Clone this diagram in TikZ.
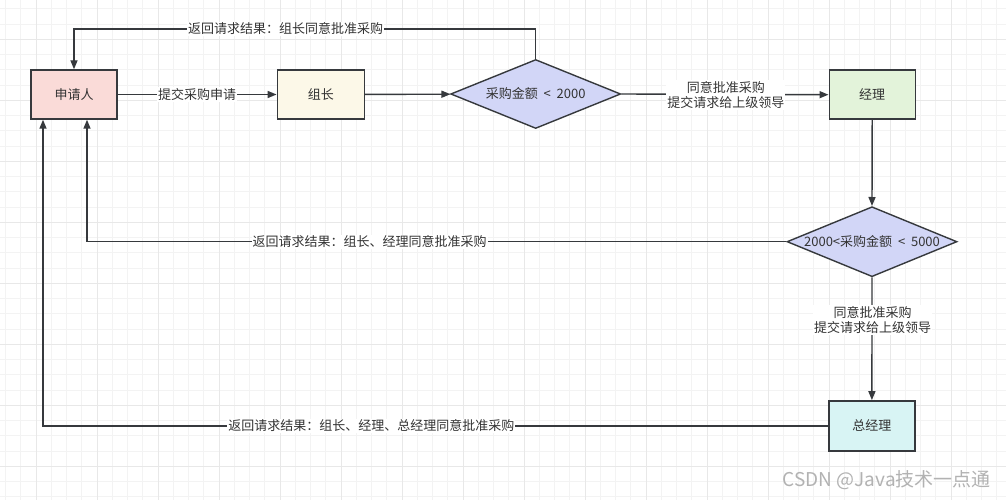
\documentclass[tikz,border=0pt]{standalone}
\usepackage{fontspec}
\setmainfont{Noto Sans CJK SC}
\usetikzlibrary{shapes.geometric,arrows.meta}
\definecolor{strk}{HTML}{36393D}
\definecolor{txt}{HTML}{333333}
\definecolor{fpink}{HTML}{FADBD8}
\definecolor{fyel}{HTML}{FCF8E8}
\definecolor{fblue}{HTML}{D2D6F7}
\definecolor{fgreen}{HTML}{E3F3DA}
\definecolor{fcyan}{HTML}{D8F4F4}
\definecolor{gminor}{HTML}{F3F3F3}
\definecolor{gmajor}{HTML}{E8E8E8}
\tikzset{
  box/.style={draw=strk, line width=1.4pt, minimum width=86pt, minimum height=49pt, inner sep=0pt, font=\fontsize{13}{15}\selectfont, text=txt},
  dia/.style={diamond, draw=strk, line width=1.4pt, fill=fblue, minimum width=170pt, minimum height=69pt, aspect=2.46, inner sep=0pt, font=\fontsize{13}{15}\selectfont, text=txt},
  conn/.style={draw=strk, line width=1.4pt},
  arr/.style={conn, -{Triangle[length=9pt,width=7pt]}},
  lbl/.style={fill=white, inner sep=1pt, font=\fontsize{13}{15.5}\selectfont, text=txt, align=center}
}
\begin{document}
\begin{tikzpicture}[x=1pt,y=-1pt]
\useasboundingbox (0,0) rectangle (1006,500);
\fill[white] (0,0) rectangle (1006,500);
% grid
\foreach \i in {0,...,66} {
  \pgfmathsetmacro{\xx}{5.5+15.25*\i}
  \draw[gminor, line width=1pt] (\xx,0) -- (\xx,500);
}
\foreach \i in {0,...,34} {
  \pgfmathsetmacro{\yy}{-6.45+15.25*\i}
  \draw[gminor, line width=1pt] (0,\yy) -- (1006,\yy);
}
\foreach \i in {0,...,16} {
  \pgfmathsetmacro{\xx}{36+61*\i}
  \draw[gmajor, line width=1pt] (\xx,0) -- (\xx,500);
}
\foreach \i in {0,...,8} {
  \pgfmathsetmacro{\yy}{39.3+61*\i}
  \draw[gmajor, line width=1pt] (0,\yy) -- (1006,\yy);
}
% nodes
\node[box, fill=fpink] (req) at (74,94.5) {申请人};
\node[box, fill=fyel, minimum width=87pt] (zz) at (320.8,94.5) {组长};
\node[dia] (d1) at (535.7,94) {采购金额\ \ \textless{}\ \ 2000};
\node[box, fill=fgreen] (jl) at (872.2,94.7) {经理};
\node[dia, minimum height=70pt] (d2) at (872,241.7) {2000\textless{}采购金额\ \ \textless{}\ \ 5000};
\node[box, fill=fcyan, minimum height=50pt] (gm) at (871.9,425.85) {总经理};
% coordinates
\coordinate (t1) at (535.7,29);
% connectors
\draw[arr] (req) -- (zz);
\draw[arr] (zz) -- (d1);
\draw[arr] (d1.north) -- (t1) -| (req.north);
\draw[arr] (d1.east) -- (jl.west);
\draw[arr] (jl.south) -- (d2.north);
\draw[arr] (d2.west) -| ([xshift=13pt]req.south);
\draw[arr] (d2.south) -- (gm.north);
\draw[arr] (gm.west) -| ([xshift=-31pt]req.south);
% labels
\node[lbl] (l1) at (197,94.5) {提交采购申请};
\node[lbl] (l2) at (285.5,29) {返回请求结果：组长同意批准采购};
\node[lbl] (l3) at (725.8,95) {同意批准采购\\提交请求给上级领导};
\node[lbl] (l4) at (369.5,241.7) {返回请求结果：组长、经理同意批准采购};
\node[lbl] (l5) at (872.5,320) {同意批准采购\\提交请求给上级领导};
\node[lbl] (l6) at (371.4,426) {返回请求结果：组长、经理、总经理同意批准采购};
% watermark
\node[anchor=east, text=gray!60, font=\fontsize{19}{21}\selectfont, inner sep=0pt] (wm) at (991,480) {CSDN @Java技术一点通};
\end{tikzpicture}
\end{document}
